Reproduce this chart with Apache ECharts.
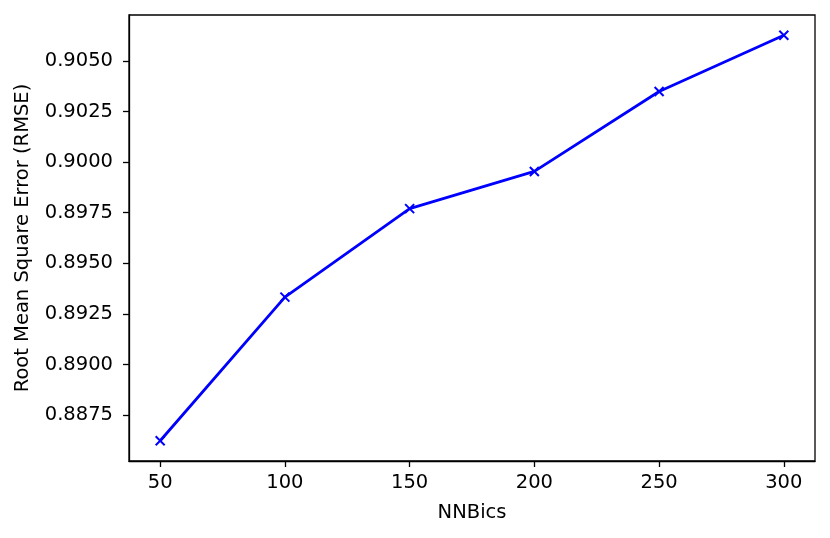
<!DOCTYPE html>
<html>
<head>
<meta charset="utf-8">
<script src="https://cdn.jsdelivr.net/npm/echarts@6/dist/echarts.min.js"></script>
<style>
  html, body { margin: 0; padding: 0; background: #fff; }
  #chart { width: 830px; height: 538px; }
</style>
</head>
<body>
<div id="chart"></div>
<script>
// data
const nnbics = [50, 100, 150, 200, 250, 300];
const rmse = [0.88623, 0.89333, 0.89770, 0.89954, 0.90349, 0.90627];
const xTicks = [50, 100, 150, 200, 250, 300];
const yTicks = [0.8875, 0.8900, 0.8925, 0.8950, 0.8975, 0.9000, 0.9025, 0.9050];

const font = 'DejaVu Sans';
let myChart = echarts.init(document.getElementById('chart'));
myChart.setOption({
    animation: false,
    grid: {
        left: 129, right: 15, top: 15, bottom: 77,
        show: true, borderColor: '#000', borderWidth: 1.3
    },
    xAxis: {
        type: 'value',
        min: 37.5,
        max: 312.5,
        name: 'NNBics',
        nameLocation: 'middle',
        nameGap: 42,
        nameTextStyle: {color: '#000', fontSize: 19.5, fontFamily: font},
        axisLine: {show: true, onZero: false, lineStyle: {color: '#000', width: 1.3}},
        axisTick: {show: true, length: 6, lineStyle: {color: '#000', width: 1.3}, customValues: xTicks},
        axisLabel: {color: '#000', fontSize: 19.5, fontFamily: font, margin: 12, customValues: xTicks,
            formatter: v => String(v)},
        splitLine: {show: false}
    },
    yAxis: {
        type: 'value',
        min: 0.88523,
        max: 0.90727,
        name: 'Root Mean Square Error (RMSE)',
        nameLocation: 'middle',
        nameGap: 96,
        nameTextStyle: {color: '#000', fontSize: 19.5, fontFamily: font},
        axisLine: {show: true, onZero: false, lineStyle: {color: '#000', width: 1.3}},
        axisTick: {show: true, length: 6, lineStyle: {color: '#000', width: 1.3}, customValues: yTicks},
        axisLabel: {color: '#000', fontSize: 19.5, fontFamily: font, margin: 16, customValues: yTicks,
            formatter: v => v.toFixed(4)},
        splitLine: {show: false}
    },
    series: [
        {
            type: 'line',
            data: nnbics.map((x, i) => [x, rmse[i]]),
            symbol: 'path://M0,0L10,10M10,0L0,10',
            symbolSize: 9,
            showAllSymbol: true,
            lineStyle: {color: '#0000ff', width: 2.8},
            itemStyle: {color: 'rgba(0,0,0,0)', borderColor: '#0000ff', borderWidth: 2}
        }
    ]
});
</script>
</body>
</html>
